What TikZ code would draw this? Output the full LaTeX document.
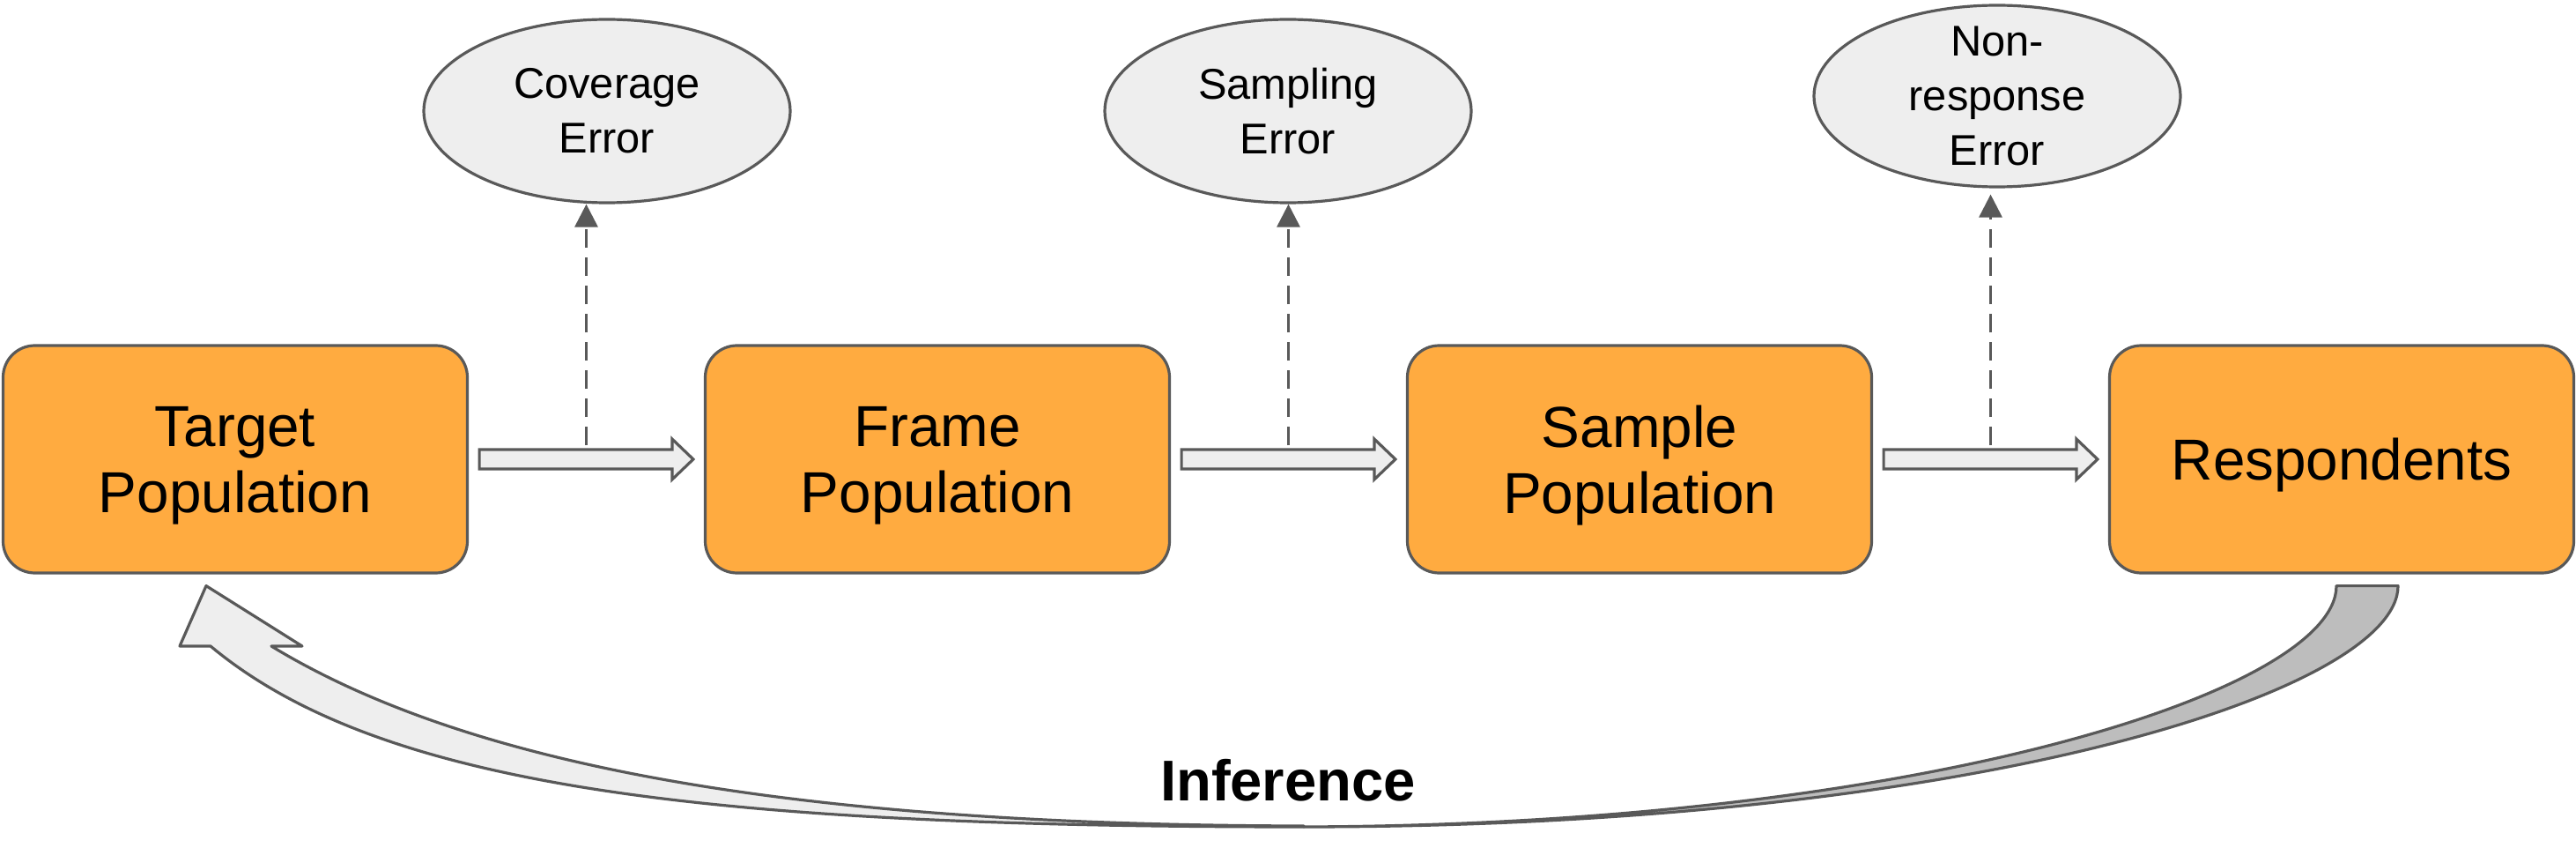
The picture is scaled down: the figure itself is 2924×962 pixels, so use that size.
\documentclass[tikz,border=0pt]{standalone}
\usepackage{fontspec}
\setmainfont{Liberation Sans}
\usetikzlibrary{shapes.geometric,arrows.meta,calc}
\definecolor{boxfill}{HTML}{FFAB40}
\definecolor{edgegray}{HTML}{595959}
\definecolor{lightfill}{HTML}{EEEEEE}
\definecolor{darkfill}{HTML}{BDBDBD}
\newcommand\fatarrow[2]{%
  \draw[fatarr] let \p1=($(#1.east)+(12,0)$), \p2=($(#2.west)+(-12,0)$) in
    (\x1,\y1+2.75pt) -- (\x2-6pt,\y1+2.75pt) -- (\x2-6pt,\y1+5.75pt) -- (\x2,\y1)
    -- (\x2-6pt,\y1-5.75pt) -- (\x2-6pt,\y1-2.75pt) -- (\x1,\y1-2.75pt) -- cycle;}
\begin{document}
\begin{tikzpicture}[x=0.25pt,y=-0.25pt,
  popbox/.style={draw=edgegray, fill=boxfill, line width=0.8pt, rounded corners=9pt,
    minimum width=131.75pt, minimum height=64.5pt, align=center, text depth=0pt,
    font=\fontsize{16.4pt}{18.75pt}\selectfont, inner sep=0pt},
  errell/.style={ellipse, draw=edgegray, fill=lightfill, line width=0.8pt,
    minimum width=104pt, minimum height=52pt, inner sep=0pt},
  errtext/.style={align=center, font=\fontsize{12.2pt}{15.5pt}\selectfont, inner sep=0pt},
  fatarr/.style={draw=edgegray, fill=lightfill, line width=0.8pt},
  errarr/.style={draw=edgegray, line width=0.75pt, dash pattern=on 5.25pt off 2.75pt,
    -{Triangle[length=6.5pt,width=6.5pt]}},
  ribbon/.style={draw=edgegray, line width=0.8pt, line join=round}]
\useasboundingbox (0,0) rectangle (2924,962);

% population boxes
\node[popbox] (t) at (267,521) {Target\\Population};
\node[popbox] (f) at (1064,521) {Frame\\Population};
\node[popbox] (s) at (1861,521) {Sample\\Population};
\node[popbox] (r) at (2658,521) {Respondents};

% error ellipses
\node[errell] (cov) at (689,126) {};
\node[errtext] at (cov) {Coverage\\Error};
\node[errell] (samp) at (1462,126) {};
\node[errtext] at (samp) {Sampling\\Error};
\node[errell, minimum height=51.5pt] (nonr) at (2267,109) {};
\node[errtext] at (nonr) {Non-\\response\\Error};

% block arrows between boxes
\fatarrow{t}{f}
\fatarrow{f}{s}
\fatarrow{s}{r}

% dashed error arrows
\coordinate (m1) at ($(t.east)!0.5!(f.west)+(0,-16)$);
\coordinate (m2) at ($(f.east)!0.5!(s.west)+(0,-16)$);
\coordinate (m3) at ($(s.east)!0.5!(r.west)+(0,-16)$);
\draw[errarr] (m1) -- (m1 |- cov.south);
\draw[errarr] (m2) -- (m2 |- samp.south);
\draw[errarr, shorten >=1.75pt] (m3) -- (m3 |- nonr.south);

% inference ribbon arrow
\coordinate (ra) at ($(r.south)+(64,13)$);
\coordinate (rb) at ($(r.south)+(-6,13)$);
\coordinate (tip) at ($(t.south)+(-33,13)$);
\fill[darkfill] (ra) .. controls (2722,782) and (2250,938) .. (1480,938)
  .. controls (2177,936) and (2652,784) .. (rb) -- cycle;
\draw[ribbon] (ra) .. controls (2722,782) and (2250,938) .. (1480,938)
  .. controls (2177,936) and (2652,784) .. (rb) -- cycle;
\draw[ribbon, fill=lightfill] (1480,938) .. controls (800,938) and (431,893) .. (239,733)
  -- (204,733) -- (tip) -- (343,733) -- (308,733)
  .. controls (532,869) and (900,936) .. (1480,937) -- cycle;

\node[font=\bfseries\fontsize{16.3pt}{18pt}\selectfont, inner sep=0pt] (inf) at (1462,885) {Inference};
\end{tikzpicture}
\end{document}
